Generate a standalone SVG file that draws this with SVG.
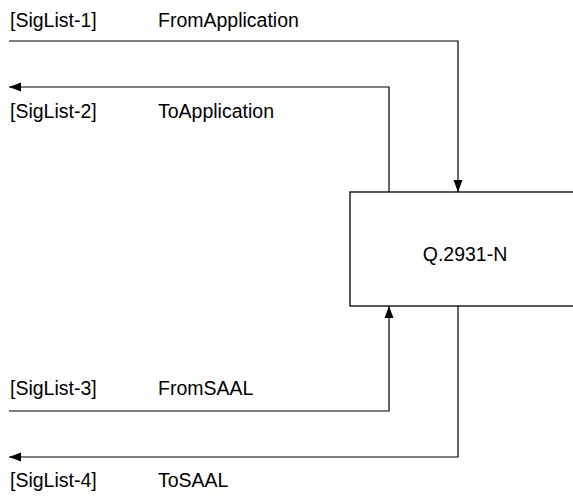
<svg xmlns="http://www.w3.org/2000/svg" width="573" height="500" viewBox="0 0 573 500">
<style>
text{font-family:"Liberation Sans",Arial,sans-serif;font-size:19.5px;fill:#000}
.c{fill:none;stroke:#000;stroke-width:1.2}
</style>
<defs>
<marker id="ah" viewBox="0 0 12 10" refX="12" refY="5" markerWidth="12" markerHeight="10" markerUnits="userSpaceOnUse" orient="auto">
<path d="M0,0.5 L12,5 L0,9.5 Z" fill="#000"/>
</marker>
</defs>
<rect width="573" height="500" fill="#fff"/>
<g id="node-q2931">
<rect x="350" y="192" width="240" height="114" fill="#fff" stroke="#000" stroke-width="1.3"/>
<text x="465" y="261" text-anchor="middle" font-size="21.5">Q.2931-N</text>
</g>
<g id="connectors">
<path class="c" d="M9,41 H458 V192" marker-end="url(#ah)"/>
<path class="c" d="M389,192 V87 H9" marker-end="url(#ah)"/>
<path class="c" d="M9,411 H389 V306" marker-end="url(#ah)"/>
<path class="c" d="M458,306 V457 H9" marker-end="url(#ah)"/>
</g>
<g id="labels">
<text x="10" y="27">[SigList-1]</text>
<text x="158" y="27">FromApplication</text>
<text x="10" y="118">[SigList-2]</text>
<text x="158" y="118">ToApplication</text>
<text x="10" y="395">[SigList-3]</text>
<text x="158" y="395">FromSAAL</text>
<text x="10" y="487">[SigList-4]</text>
<text x="158" y="487">ToSAAL</text>
</g>
</svg>
